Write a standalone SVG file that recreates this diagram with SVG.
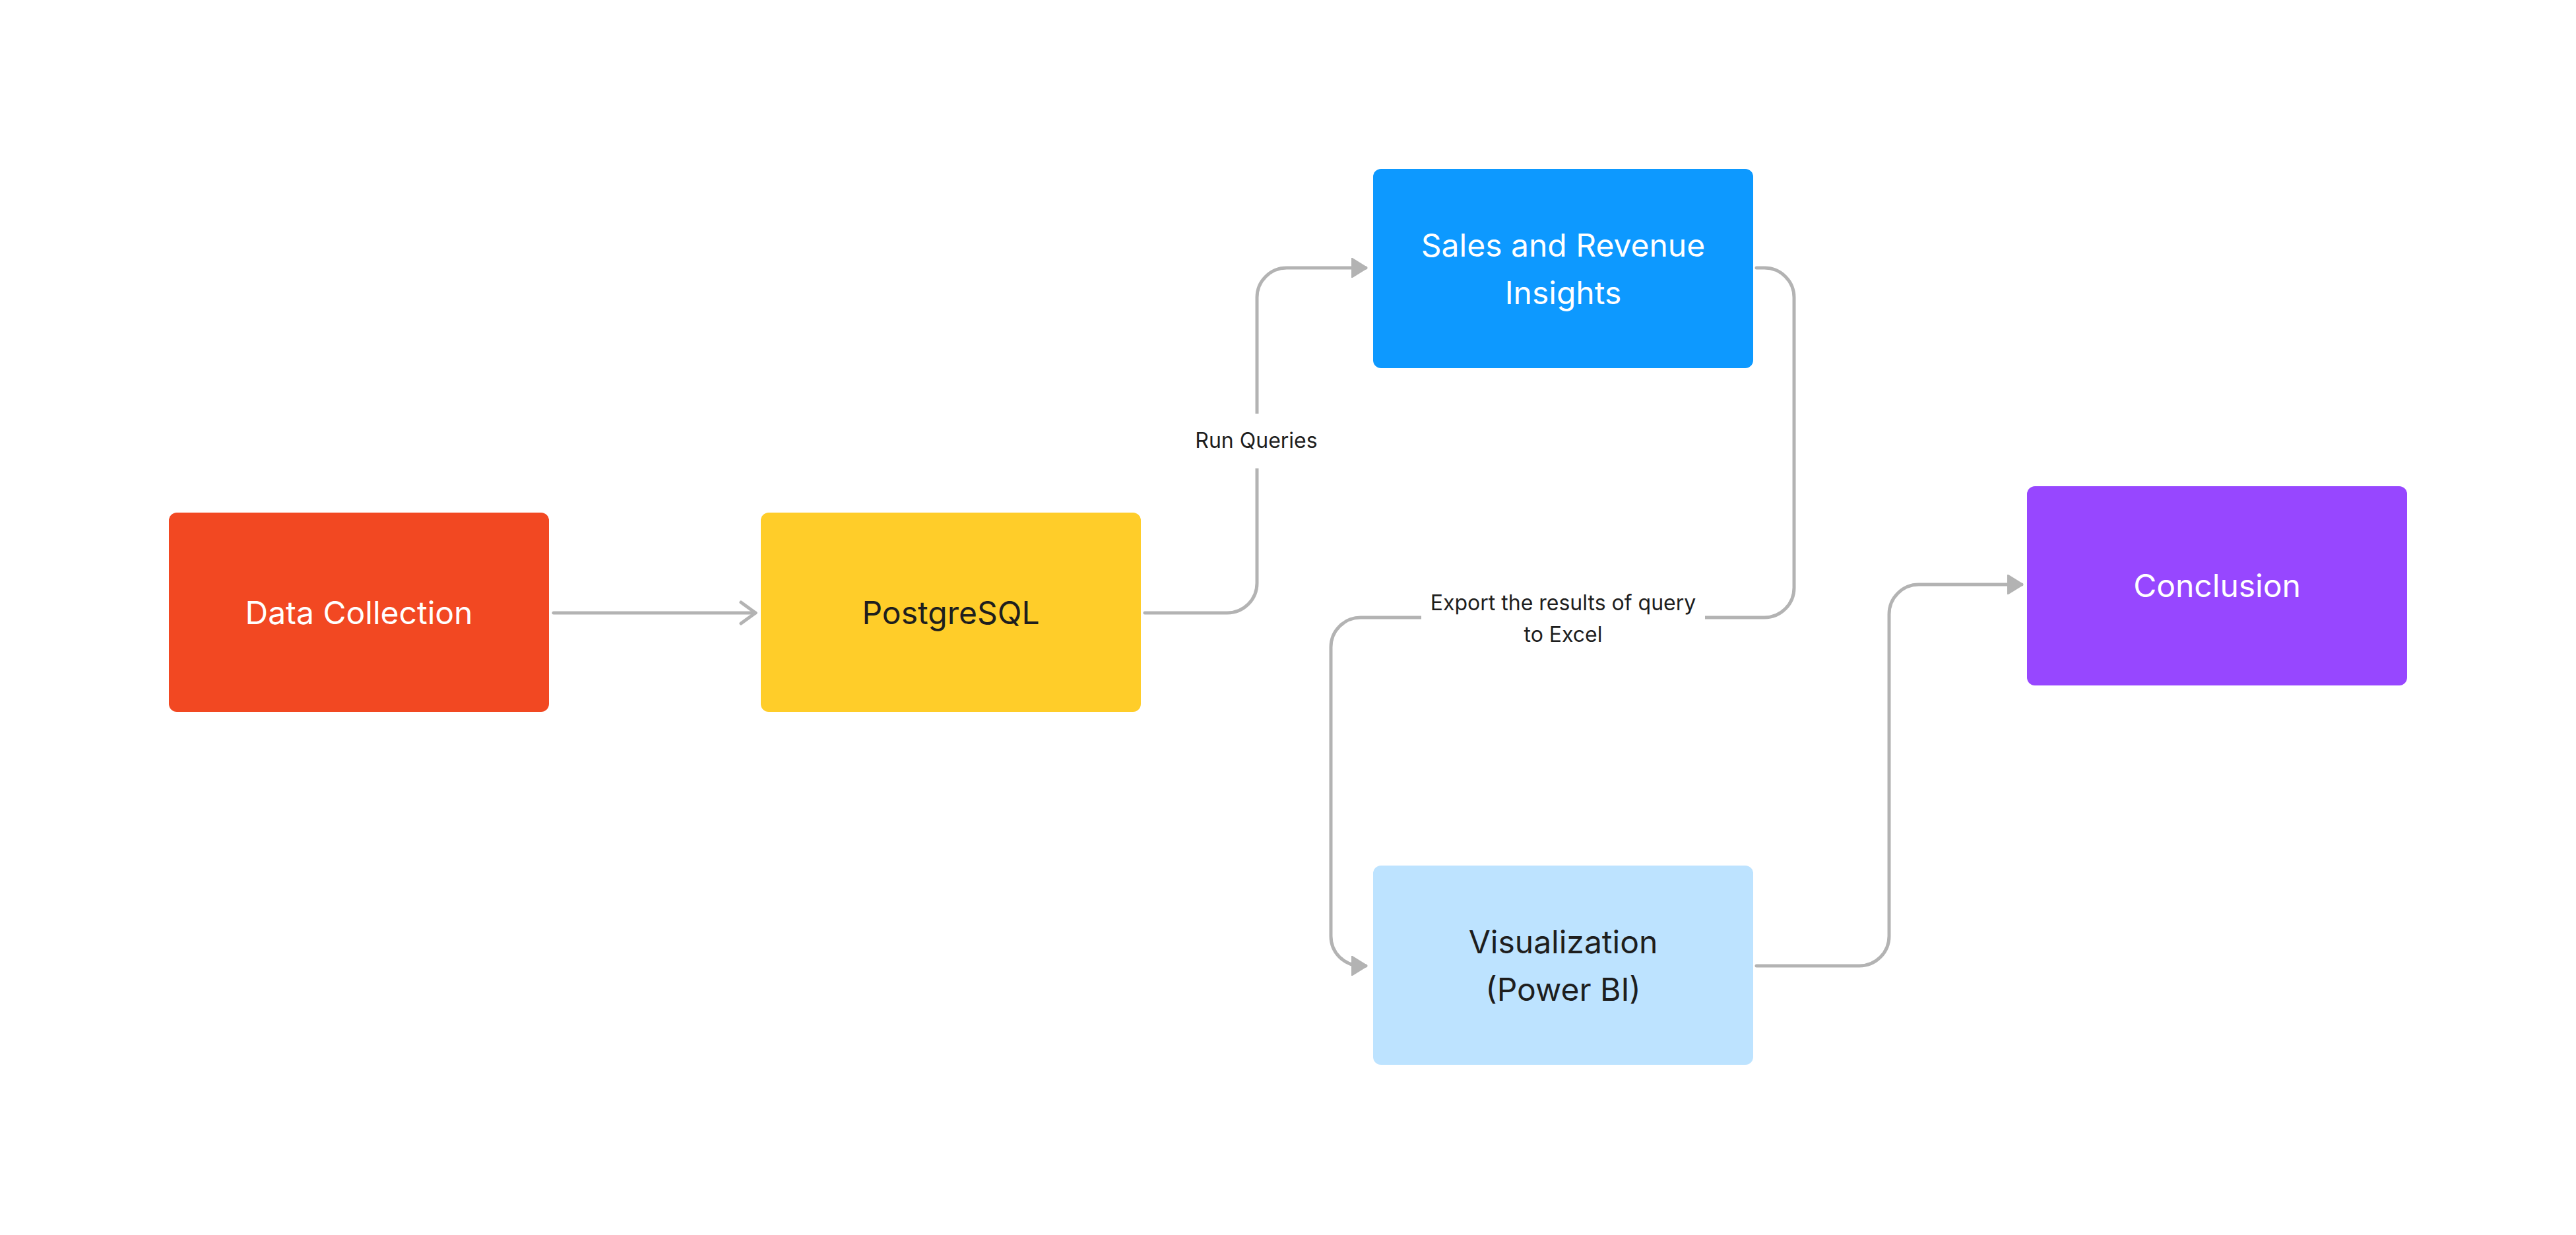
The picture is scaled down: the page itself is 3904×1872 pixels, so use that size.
<svg xmlns="http://www.w3.org/2000/svg" width="3904" height="1872" viewBox="0 0 3904 1872">
<style>
.node-text{font-family:Inter,"Noto Sans","Liberation Sans",sans-serif;font-size:48px;text-anchor:middle}
.light{fill:#FFFFFF}
.dark{fill:#1E1E1E}
.conn{fill:none;stroke:#B3B3B3;stroke-width:5;stroke-linecap:round}
.label{font-family:Inter,"Noto Sans","Liberation Sans",sans-serif;font-size:32px;fill:#1E1E1E;text-anchor:middle}
</style>
<defs>
<marker id="tri" markerUnits="userSpaceOnUse" viewBox="0 0 24 30" refX="22" refY="15" markerWidth="24" markerHeight="30" orient="auto">
<path d="M0,0 L24,15 L0,30 Z" fill="#B3B3B3" stroke="#B3B3B3" stroke-width="2" stroke-linejoin="round"/>
</marker>
<marker id="open" markerUnits="userSpaceOnUse" viewBox="0 0 30 40" refX="26" refY="20" markerWidth="30" markerHeight="40" orient="auto">
<path d="M4,4 L26,20 L4,36" fill="none" stroke="#B3B3B3" stroke-width="5" stroke-linecap="round" stroke-linejoin="round"/>
</marker>
</defs>
<rect width="3904" height="1872" fill="#FFFFFF"/>
<g id="connectors">
<path class="conn" d="M839,929 H1145" marker-end="url(#open)"/>
<path class="conn" d="M1735,929 H1860 A45,45 0 0 0 1905,884 V451 A45,45 0 0 1 1950,406 H2070" marker-end="url(#tri)"/>
<path class="conn" d="M2662,406 H2674 A45,45 0 0 1 2719,451 V891 A45,45 0 0 1 2674,936 H2062 A45,45 0 0 0 2017,981 V1419 A45,45 0 0 0 2062,1464 H2070" marker-end="url(#tri)"/>
<path class="conn" d="M2662,1464 H2818 A45,45 0 0 0 2863,1419 V931 A45,45 0 0 1 2908,886 H3064" marker-end="url(#tri)"/>
<g id="label-run-queries">
<rect x="1800" y="627" width="204" height="83" fill="#FFFFFF"/>
<text class="label" x="1904" y="679">Run Queries</text>
</g>
<g id="label-export">
<rect x="2154" y="880" width="430" height="110" fill="#FFFFFF"/>
<text class="label" x="2369" y="925">Export the results of query</text>
<text class="label" x="2369" y="973">to Excel</text>
</g>
</g>
<g id="node-data-collection">
<rect x="256" y="777" width="576" height="302" rx="12" fill="#F24822"/>
<text class="node-text light" x="544" y="946">Data Collection</text>
</g>
<g id="node-postgresql">
<rect x="1153" y="777" width="576" height="302" rx="12" fill="#FFCD29"/>
<text class="node-text dark" x="1441" y="946">PostgreSQL</text>
</g>
<g id="node-sales">
<rect x="2081" y="256" width="576" height="302" rx="12" fill="#0D99FF"/>
<text class="node-text light" x="2369" y="389">Sales and Revenue</text>
<text class="node-text light" x="2369" y="461">Insights</text>
</g>
<g id="node-visualization">
<rect x="2081" y="1312" width="576" height="302" rx="12" fill="#BDE3FF"/>
<text class="node-text dark" x="2369" y="1445">Visualization</text>
<text class="node-text dark" x="2369" y="1517">(Power BI)</text>
</g>
<g id="node-conclusion">
<rect x="3072" y="737" width="576" height="302" rx="12" fill="#9747FF"/>
<text class="node-text light" x="3360" y="905">Conclusion</text>
</g>
</svg>
